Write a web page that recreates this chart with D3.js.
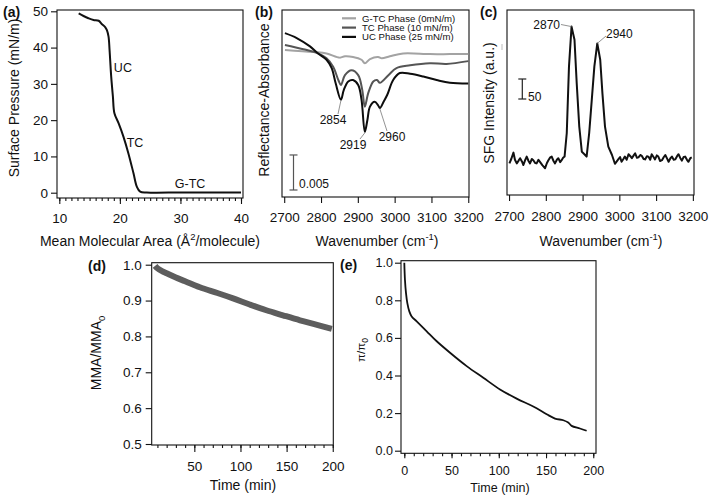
<!DOCTYPE html>
<html><head><meta charset="utf-8">
<script src="https://cdn.jsdelivr.net/npm/d3@7"></script>
<style>
body{margin:0;background:#fff}
svg{display:block}
text{font-family:"Liberation Sans",Arial,Helvetica,sans-serif;fill:#111}
</style>
</head><body>
<svg id="chart" width="709" height="497"></svg>
<script>
// ---------- DATA ----------
// (a) isotherm
const isoArea = [13.2,14.0,14.8,15.65,16.5,17.0,17.6,17.86,18.13,18.3,18.57,18.85,19.1,19.8,20.6,21.4,22.25,22.8,23.35,24.45,30,35,40];
const isoPressure = [49.4,48.7,48.1,47.6,47.4,46.5,45.6,44.8,43.0,39.3,32.0,26.5,21.9,19.1,15.4,10.9,5.35,1.65,0.28,0.05,0.05,0.05,0.05];
const isoTicksY = [0,10,20,30,40,50];
const isoTicksX = [10,20,30,40];
const phaseLabels = ["UC","TC","G-TC"];
const phaseLabelArea = [20.5,22.5,31.6];
const phaseLabelPressure = [33.4,12.5,1.4];

// (b) IRRAS, absorbance in units of 1e-3
const wnUC = [2702,2734,2770,2792,2815,2829,2840,2854,2862,2874,2887,2901,2910,2919,2926,2933,2946,2955,2960,2970,2980,2996,3014,3042,3078,3114,3150,3200];
const absUC = [23.4,22.7,21.5,20.5,19.6,18.4,16.2,13.9,15.3,16.5,16.7,16.0,13.9,9.3,11.0,12.9,13.6,13.1,12.7,13.6,14.6,16.7,17.7,17.6,17.2,16.7,16.3,16.2];
const wnTC = [2702,2752,2792,2815,2833,2847,2854,2865,2883,2901,2912,2919,2928,2942,2952,2960,2983,3005,3042,3096,3141,3200];
const absTC = [21.7,21.1,20.5,19.8,18.6,16.7,16.0,17.4,18.1,17.4,15.3,12.9,14.8,16.5,16.7,16.3,17.4,18.4,18.8,19.1,19.0,19.4];
const wnGTC = [2702,2779,2815,2851,2865,2887,2910,2919,2933,2955,2965,2987,3023,3096,3150,3200];
const absGTC = [21.0,20.7,20.5,19.9,20.1,20.0,19.6,19.1,19.7,20.0,19.8,20.1,20.5,20.4,20.4,20.4];
const irLegend = ["G-TC Phase (0mN/m)","TC Phase (10 mN/m)","UC Phase (25 mN/m)"];
const irPeaks = [2854,2919,2960];
const wnTicks = [2700,2800,2900,3000,3100,3200];

// (c) SFG
const sfgWn = [2701,2706,2712,2716,2721,2726,2730,2735,2739,2744,2748,2753,2757,2762,2766,2771,2775,2780,2784,2791,2798,2803,2807,2812,2816,2821,2825,2830,2834,2839,2843,2847,2851,
  2857,2863,2870,2878,2884,2891,2898,2905,2911,2918,2925,2932,2940,2948,2954,2961,2970,2980,2988,
  2993,2997,3002,3006,3011,3015,3020,3025,3030,3034,3039,3043,3048,3052,3057,3061,3066,3070,3075,3079,3084,3088,3093,3097,3102,3106,3111,3116,3121,3125,3130,3134,3139,3143,3148,3152,3157,3161,3166,3170,3175,3179,3184,3188,3193,3197];
const sfgInt = [79,90,106,88,79,86,92,84,75,88,96,85,79,90,87,80,79,88,83,74,67,80,87,94,96,85,79,88,92,82,87,93,96,
  155,321,421,388,280,171,108,102,96,155,238,321,379,338,254,171,121,100,78,
  84,89,95,83,90,96,88,102,97,92,99,104,93,94,100,98,90,89,97,96,88,102,95,89,99,96,85,87,95,100,91,83,92,96,88,89,97,102,92,86,95,96,88,83,92,94];
const sfgPeaks = [2870,2940];

// (d) MMA/MMA0
const mmaTime = [7.5,10,15,20,30,40,56,75,92,110,128,146,164.5,182,199];
const mmaRatio = [0.997,0.99,0.982,0.976,0.964,0.954,0.937,0.921,0.906,0.889,0.873,0.859,0.845,0.833,0.821];
const mmaTicksY = [0.5,0.6,0.7,0.8,0.9,1.0];
const timeTicksD = [50,100,150,200];

// (e) pi/pi0
const piTime = [0,0.7,1.8,3.2,5.3,7.8,13.1,23.7,34.3,48.4,66,83.6,101.3,118.9,136.5,150.7,159.5,168.3,173.5,177.1,185.9,193];
const piRatio = [1.0,0.908,0.838,0.785,0.741,0.714,0.688,0.635,0.582,0.521,0.45,0.388,0.326,0.277,0.235,0.194,0.171,0.162,0.15,0.132,0.118,0.106];
const piTicksY = [0,0.2,0.4,0.6,0.8,1.0];
const timeTicksE = [0,50,100,150,200];

// ---------- DRAW ----------
const svg = d3.select("#chart");
svg.append("rect").attr("width",709).attr("height",497).attr("fill","#fff");

function frame(x0,y0,x1,y1){
  svg.append("rect").attr("x",x0).attr("y",y0).attr("width",x1-x0).attr("height",y1-y0)
    .attr("fill","none").attr("stroke","#111").attr("stroke-width",1.1);
}
function styleAxis(g,fs){
  g.select(".domain").remove();
  g.selectAll(".tick line").attr("stroke","#111").attr("stroke-width",1.1);
  g.selectAll(".tick text").attr("font-size",fs).attr("fill","#111")
    .style("font-family",'"Liberation Sans",Arial,sans-serif');
}
function axisLeft(scale,ticks,x,pad,fmt,fs){
  const g = svg.append("g").attr("transform",`translate(${x},0)`)
    .call(d3.axisLeft(scale).tickValues(ticks).tickSize(6).tickPadding(pad).tickFormat(fmt));
  styleAxis(g,fs);
}
function axisBottom(scale,ticks,y,minor,pad,fs,size){
  if(minor){
    const gm = svg.append("g").attr("transform",`translate(0,${y})`)
      .call(d3.axisBottom(scale).tickValues(minor).tickSize(3).tickFormat(""));
    styleAxis(gm,fs);
  }
  const g = svg.append("g").attr("transform",`translate(0,${y})`)
    .call(d3.axisBottom(scale).tickValues(ticks).tickSize(size||6).tickPadding(pad).tickFormat(d3.format("d")));
  styleAxis(g,fs);
}
function text(x,y,s,opt={}){
  const t = svg.append("text").attr("x",x).attr("y",y)
    .attr("font-size",opt.size||14).attr("text-anchor",opt.anchor||"start");
  if(opt.bold) t.attr("font-weight","bold");
  t.text(s);
  return t;
}
function rotLabel(x,y,s,size){
  svg.append("text").attr("transform",`translate(${x},${y}) rotate(-90)`)
    .attr("text-anchor","middle").attr("font-size",size).text(s);
}
function wnTitle(x){
  const t = svg.append("text").attr("x",x).attr("y",246).attr("text-anchor","middle").attr("font-size",14);
  t.append("tspan").text("Wavenumber (cm");
  t.append("tspan").text("-1").attr("font-size",9.5).attr("dy",-6);
  t.append("tspan").text(")").attr("dy",6);
}
function scaleBar(x,y0,y1,color,label,lx,ly){
  svg.append("line").attr("x1",x).attr("x2",x).attr("y1",y0).attr("y2",y1).attr("stroke",color).attr("stroke-width",1.2);
  [y0,y1].forEach(y=>svg.append("line").attr("x1",x-4).attr("x2",x+4).attr("y1",y).attr("y2",y).attr("stroke",color).attr("stroke-width",1.2));
  text(lx,ly,label,{size:12});
}

// ---- panel (a)
const xA = d3.scaleLinear([9.62,40.33],[57,243]);
const yA = d3.scaleLinear([-1.46,50.36],[198,10]);
frame(57,10,243,198);
axisLeft(yA,isoTicksY,57,3,d3.format("d"),13.5);
axisBottom(xA,isoTicksX,198,d3.range(10,41),9,13.5,6);
svg.append("path").datum(isoArea.map((a,i)=>[a,isoPressure[i]]))
  .attr("fill","none").attr("stroke","#111").attr("stroke-width",2)
  .attr("d",d3.line().x(d=>xA(d[0])).y(d=>yA(d[1])).curve(d3.curveCatmullRom.alpha(0.5)));
phaseLabels.forEach((l,i)=>text(xA(phaseLabelArea[i]),yA(phaseLabelPressure[i]),l,{size:12.5,anchor:"middle"}));
rotLabel(19,98,"Surface Pressure (mN/m)",14);
{
  const t = svg.append("text").attr("x",150).attr("y",246).attr("text-anchor","middle").attr("font-size",14);
  t.append("tspan").text("Mean Molecular Area (Å");
  t.append("tspan").text("2").attr("font-size",9.5).attr("dy",-6);
  t.append("tspan").text("/molecule)").attr("dy",6);
}
text(3,17,"(a)",{size:14,bold:true});

// ---- panel (b)
const xB = d3.scaleLinear([2694,3202],[282,469]);
const yB = d3.scaleLinear([0,26.7],[197,10]);
frame(282,10,469,197);
axisBottom(xB,wnTicks,197,null,9,13.5,6);
const lineB = d3.line().x(d=>xB(d[0])).y(d=>yB(d[1])).curve(d3.curveCatmullRom.alpha(0.5));
const irSeries = [
  {wn:wnGTC,v:absGTC,c:"#a3a3a3"},
  {wn:wnTC,v:absTC,c:"#555"},
  {wn:wnUC,v:absUC,c:"#0d0d0d"}
];
irSeries.forEach(s=>{
  svg.append("path").datum(s.wn.map((w,i)=>[w,s.v[i]]))
    .attr("fill","none").attr("stroke",s.c).attr("stroke-width",2).attr("d",lineB);
});
irLegend.forEach((l,i)=>{
  const y = 18.3+i*9.3;
  svg.append("line").attr("x1",342).attr("x2",356).attr("y1",y).attr("y2",y)
    .attr("stroke",irSeries[i].c).attr("stroke-width",2.2);
  text(362,y+3.4,l,{size:9.6}).attr("fill","#222");
});
scaleBar(293.5,yB(1),yB(6),"#555","0.005",299,yB(1)-2);
const peakLab = [{x:333,y:124,lx1:338,ly1:114},{x:353,y:149,lx1:360,ly1:139},{x:392,y:141,lx1:387,ly1:131}];
irPeaks.forEach((p,i)=>{
  const k = wnUC.indexOf(p);
  svg.append("line").attr("x1",peakLab[i].lx1).attr("y1",peakLab[i].ly1)
    .attr("x2",xB(p)).attr("y2",yB(absUC[k])+1).attr("stroke","#777").attr("stroke-width",0.8);
  text(peakLab[i].x,peakLab[i].y,String(p),{size:12,anchor:"middle"});
});
rotLabel(269,100,"Reflectance-Absorbance",14);
wnTitle(377);
text(255,17,"(b)",{size:14,bold:true});

// ---- panel (c)
const xC = d3.scaleLinear([2694.4,3203.1],[507,694]);
const yC = d3.scaleLinear([0,462.5],[195,10]);
frame(507,10,694,195);
axisBottom(xC,wnTicks,195,null,10,13.5,6);
svg.append("path").datum(sfgWn.map((w,i)=>[w,sfgInt[i]]))
  .attr("fill","none").attr("stroke","#111").attr("stroke-width",2).attr("stroke-linejoin","round")
  .attr("d",d3.line().x(d=>xC(d[0])).y(d=>yC(d[1])));
scaleBar(522.3,yC(240),yC(290),"#222","50",528,101);
svg.append("line").attr("x1",502).attr("x2",502).attr("y1",44).attr("y2",50).attr("stroke","#bbb").attr("stroke-width",1);
sfgPeaks.forEach((p,i)=>{
  const k = sfgWn.indexOf(p);
  const px = xC(p), py = yC(sfgInt[k]);
  if(i===0){
    svg.append("line").attr("x1",561).attr("y1",24.5).attr("x2",px).attr("y2",py).attr("stroke","#777").attr("stroke-width",0.8);
    text(560,29,String(p),{size:12,anchor:"end"});
  } else {
    svg.append("line").attr("x1",606).attr("y1",36).attr("x2",px).attr("y2",py).attr("stroke","#777").attr("stroke-width",0.8);
    text(606,38,String(p),{size:12});
  }
});
rotLabel(494,103,"SFG Intensity (a.u.)",14);
wnTitle(601);
text(480,17,"(c)",{size:14,bold:true});

// ---- panel (d)
const xD = d3.scaleLinear([3.8,200.6],[151.7,333.3]);
const yD = d3.scaleLinear([0.5,1.0],[444,264.7]);
frame(151.7,262.7,333.3,445);
axisLeft(yD,mmaTicksY,151.7,4,d3.format(".1f"),13.5);
axisBottom(xD,timeTicksD,445,d3.range(10,201,10),9,13.5,7);
svg.append("path").datum(mmaTime.map((t,i)=>[t,mmaRatio[i]]))
  .attr("fill","none").attr("stroke","#5d5d5d").attr("stroke-width",6)
  .attr("d",d3.line().x(d=>xD(d[0])).y(d=>yD(d[1])).curve(d3.curveCatmullRom.alpha(0.5)));
{
  const t = svg.append("text").attr("transform","translate(101,353) rotate(-90)")
    .attr("text-anchor","middle").attr("font-size",14);
  t.append("tspan").text("MMA/MMA");
  t.append("tspan").text("0").attr("font-size",9.5).attr("dy",4);
}
text(243,490,"Time (min)",{size:14,anchor:"middle"});
text(88,271,"(d)",{size:14,bold:true});

// ---- panel (e)
const xE = d3.scaleLinear([-3.5,202.9],[401,596]);
const yE = d3.scaleLinear([0,1],[450.7,262.7]);
frame(401,260.7,596,453.3);
axisLeft(yE,piTicksY,401,2,d3.format(".1f"),12.5);
axisBottom(xE,timeTicksE,453.3,d3.range(0,201,10),8,12.5,5);
svg.append("path").datum(piTime.map((t,i)=>[t,piRatio[i]]))
  .attr("fill","none").attr("stroke","#111").attr("stroke-width",1.8)
  .attr("d",d3.line().x(d=>xE(d[0])).y(d=>yE(d[1])).curve(d3.curveCatmullRom.alpha(0.5)));
{
  const t = svg.append("text").attr("transform","translate(365,350) rotate(-90)")
    .attr("text-anchor","middle").attr("font-size",11.5);
  t.append("tspan").text("π/π");
  t.append("tspan").text("0").attr("font-size",8.5).attr("dy",3);
}
text(500,492,"Time (min)",{size:12.5,anchor:"middle"});
text(340,270,"(e)",{size:14,bold:true});
</script>
</body></html>
